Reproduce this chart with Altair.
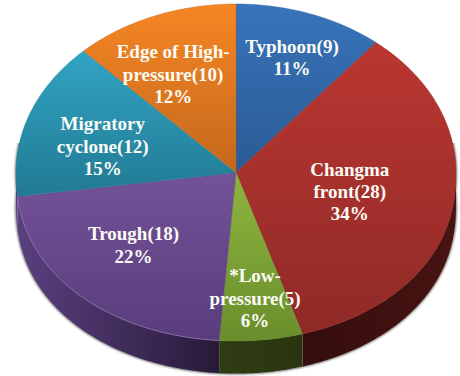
import numpy as np
import altair as alt

# Synoptic types and their case counts, clockwise from twelve o'clock
names = ["Typhoon", "Changma\nfront", "*Low-\npressure", "Trough", "Migratory\ncyclone", "Edge of High-\npressure"]
counts = [9, 28, 5, 18, 12, 10]

# Top-face gradients (upper, lower) and side-wall gradients (left, right)
top_colors = [("#3874ba", "#2a5a94"), ("#bb3631", "#8f2a27"), ("#8eb53f", "#6a8e2c"),
              ("#745299", "#593d7b"), ("#32a4c4", "#217a93"), ("#f68624", "#c4681c")]
side_colors = [("#1e3d66", "#1e3d66"), ("#340d0c", "#481412"), ("#2f3d13", "#29350f"),
               ("#5a4080", "#281a38"), ("#5a4080", "#5a4080"), ("#8a4a12", "#8a4a12")]

# Label placement around the pie: radial fraction of the rim, and angular nudge in degrees
label_radius = [0.726, 0.53, 0.755, 0.636, 0.625, 0.646]
label_nudge = [0.75, 1.7, 0, 3.2, -5.5, -4.3]
LINE_HEIGHT = 22.4

# Pie proportions, in units of the horizontal radius
ASPECT = 0.766
DEPTH = 0.148
FRONT_BULGE = 0.9  # exponent that fattens the near half of the rim
RADIUS_PX, CENTER_PX = 220, [236, 172.5]


def rim(t0, t1, drop=0.0):
    t = np.radians(np.linspace(t0, t1, max(int(abs(t1 - t0) * 1.5), 2)))
    points = []
    for a in t:
        c = float(np.cos(a))
        depth = -c if c >= 0 else abs(c) ** FRONT_BULGE
        points.append([float(np.sin(a)), ASPECT * depth + drop])
    return points


def polygon(points):
    ring = points + [points[0]]
    return {"type": "Feature", "properties": {}, "geometry": {"type": "Polygon", "coordinates": [ring]}}


def line(points):
    return {"type": "Feature", "properties": {}, "geometry": {"type": "LineString", "coordinates": points}}


def vertical(pair):
    return alt.Gradient(gradient="linear", x1=0, x2=0, y1=0, y2=1,
                        stops=[alt.GradientStop(color=pair[0], offset=0), alt.GradientStop(color=pair[1], offset=1)])


def horizontal(pair):
    return alt.Gradient(gradient="linear", x1=0, x2=1, y1=0, y2=0,
                        stops=[alt.GradientStop(color=pair[0], offset=0), alt.GradientStop(color=pair[1], offset=1)])


def shape(feature, **mark):
    return alt.Chart(alt.Data(values=[feature])).mark_geoshape(**mark)


total = sum(counts)
edges = np.cumsum([0] + counts) / total * 360

layers = []

# Soft shadow hugging the lower outline of the drum
outline = polygon(rim(80, 280) + rim(270, 90, DEPTH))
for width, tone in [(5, "#e6e6e6"), (3, "#c4c4c4"), (1.5, "#9a9a9a")]:
    layers.append(shape(outline, fill="#ffffff", stroke=tone, strokeWidth=width))

# Side walls: only the part of each slice on the near half of the rim shows
for i in range(len(counts)):
    t0, t1 = max(edges[i], 90), min(edges[i + 1], 270)
    if t1 > t0:
        wall = rim(t0, t1) + rim(t1, t0, DEPTH)
        layers.append(shape(polygon(wall), fill=horizontal(side_colors[i]), strokeWidth=0))

# Top faces
for i in range(len(counts)):
    wedge = [[0.0, 0.0]] + rim(edges[i], edges[i + 1])
    layers.append(shape(polygon(wedge), fill=vertical(top_colors[i]), stroke=top_colors[i][1], strokeWidth=0.4))

# Pale highlight along the trough's front edge
layers.append(shape(line(rim(edges[3], edges[4])), filled=False, stroke="#9a80bd", strokeWidth=1, strokeOpacity=0.7))

# Slice captions; the multi-line anchor sits on the first line, so lift it by half the block
rows = []
for i, (name, n) in enumerate(zip(names, counts)):
    caption = f"{name}({n})\n{round(n / total * 100)}%"
    lift = (caption.count("\n") * LINE_HEIGHT / 2) / RADIUS_PX
    mid = np.radians((edges[i] + edges[i + 1]) / 2 + label_nudge[i])
    rows.append({
        "lon": float(label_radius[i] * np.sin(mid)),
        "lat": float(-label_radius[i] * ASPECT * np.cos(mid) - lift),
        "caption": caption,
    })
labels = alt.Chart(alt.Data(values=rows)).mark_text(
    font="Liberation Serif", fontWeight="bold", fontSize=19, color="#fbfbf6",
    align="center", baseline="middle", lineBreak="\n", lineHeight=LINE_HEIGHT,
).encode(longitude="lon:Q", latitude="lat:Q", text="caption:N")
layers.append(labels)

chart = alt.layer(*layers).project(
    type="identity", scale=RADIUS_PX, translate=CENTER_PX
).properties(
    width=460, height=376, padding=0, autosize="none", background="#ffffff"
).configure_view(strokeWidth=0)

chart.save("out.html", embed_options={"renderer": "svg", "actions": False})
